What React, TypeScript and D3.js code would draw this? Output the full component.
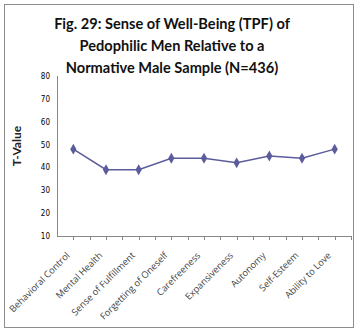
import React from "react";
import * as d3 from "d3";

const categories = [
  "Behavioral Control",
  "Mental Health",
  "Sense of Fulfillment",
  "Forgetting of Oneself",
  "Carefreeness",
  "Expansiveness",
  "Autonomy",
  "Self-Esteem",
  "Ability to Love",
];
const values = [48, 39, 39, 44, 44, 42, 45, 44, 48];
const yTicks = [10, 20, 30, 40, 50, 60, 70, 80];
const titleLines = [
  "Fig. 29: Sense of Well-Being (TPF) of",
  "Pedophilic Men Relative to a",
  "Normative Male Sample (N=436)",
];
const yTitle = "T-Value";

export default function App() {
  const W = 359, H = 333;
  const left = 57, right = 351, top = 76, bottom = 236;
  const x = d3.scaleBand<string>().domain(categories).range([left, right]);
  const y = d3.scaleLinear().domain([10, 80]).range([bottom, top]);
  const bw = x.bandwidth();
  const cx = (c: string) => (x(c) as number) + bw / 2;
  const line = d3.line<number>().x((_, i) => cx(categories[i])).y((v) => y(v));
  const halfTicks: number[] = [];
  for (let i = 1; i <= categories.length * 2; i++) halfTicks.push(left + (i * bw) / 2);
  const color = "#5B5C9C";
  const diamond = d3.symbol().type(d3.symbolDiamond).size(34)() as string;
  return (
    <svg width={W} height={H} style={{ position: "absolute", left: 0, top: 0 }} fontFamily="Lato, 'Open Sans', sans-serif">
      <rect x={0} y={0} width={W} height={H} fill="#fff" />
      <rect x={4.5} y={4.5} width={349} height={323} fill="none" stroke="#8c8c8c" strokeWidth={1} />
      {titleLines.map((t, i) => (
        <text key={i} x={172} y={29 + i * 22} textAnchor="middle" fontSize={14.6} fontWeight="bold" fill="#111">
          {t}
        </text>
      ))}
      <text transform={`translate(21,146) rotate(-90)`} textAnchor="middle" fontSize={12} fontWeight="bold" fill="#222">
        {yTitle}
      </text>
      {yTicks.map((t) => (
        <text key={t} x={50} y={y(t) + 3} textAnchor="end" fontSize={8} fontFamily="'DejaVu Sans Condensed', 'DejaVu Sans', sans-serif" fill="#000">
          {t}
        </text>
      ))}
      <line x1={left + 0.5} x2={left + 0.5} y1={top} y2={bottom} stroke="#888" />
      <line x1={left} x2={right} y1={bottom + 0.5} y2={bottom + 0.5} stroke="#888" />
      {halfTicks.map((tx, i) => (
        <line key={i} x1={Math.round(tx) + 0.5} x2={Math.round(tx) + 0.5} y1={bottom} y2={bottom + 4} stroke="#888" />
      ))}
      {categories.map((c) => (
        <text
          key={c}
          transform={`translate(${cx(c) - 3},${bottom + 20}) rotate(-45)`}
          textAnchor="end"
          fontSize={9.3}
          fontFamily="'Open Sans', sans-serif"
          fill="#444"
        >
          {c}
        </text>
      ))}
      <path d={line(values) as string} fill="none" stroke={color} strokeWidth={1.5} />
      {values.map((v, i) => (
        <path key={i} d={diamond} transform={`translate(${cx(categories[i])},${y(v)})`} fill={color} />
      ))}
    </svg>
  );
}
